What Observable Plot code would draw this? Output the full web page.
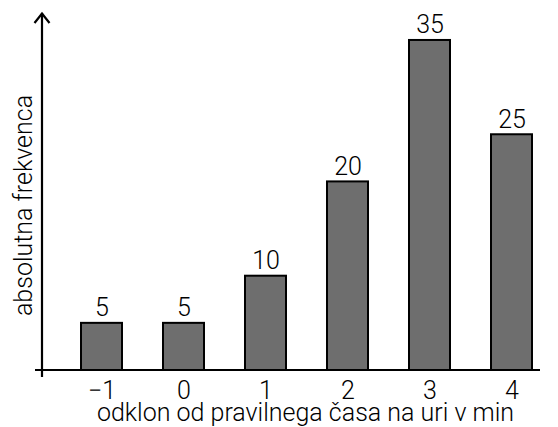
<!DOCTYPE html>
<html>
<head>
<meta charset="utf-8">
<script src="https://cdn.jsdelivr.net/npm/d3@7"></script>
<script src="https://cdn.jsdelivr.net/npm/@observablehq/plot@0.6"></script>
<style>
  html, body { margin: 0; padding: 0; background: #fff; }
  svg { display: block; }
</style>
</head>
<body>
<div id="chart"></div>
<script>
const categories = ["−1", "0", "1", "2", "3", "4"];
const frequencies = [5, 5, 10, 20, 35, 25];
const xTitle = "odklon od pravilnega časa na uri v min";
const yTitle = "absolutna frekvenca";

const data = categories.map((c, i) => ({ c, f: frequencies[i] }));

const font = "Roboto, 'Liberation Sans', Arial, sans-serif";
const fs = 25;

const axes = (index, scales, values, dim) => {
  const g = d3.create("svg:g");
  const y0 = scales.y(0);
  const xAxisLeft = 35, xAxisRight = 540, yAxisX = 42;
  const top = dim.marginTop;
  g.append("line")
    .attr("x1", xAxisLeft).attr("x2", xAxisRight)
    .attr("y1", y0).attr("y2", y0)
    .attr("stroke", "#000").attr("stroke-width", 2.2);
  g.append("line")
    .attr("x1", yAxisX).attr("x2", yAxisX)
    .attr("y1", y0 + 7).attr("y2", top)
    .attr("stroke", "#000").attr("stroke-width", 2.2);
  g.append("path")
    .attr("d", `M${yAxisX - 7.5},${top + 10}L${yAxisX},${top + 0.5}L${yAxisX + 7.5},${top + 10}`)
    .attr("fill", "none").attr("stroke", "#000").attr("stroke-width", 2.2);
  return g.node();
};

const chart = Plot.plot({
  width: 558,
  height: 427,
  marginLeft: 59.4,
  marginRight: 5.4,
  marginTop: 13,
  marginBottom: 57,
  style: { fontFamily: font, fontSize: fs + "px", fontWeight: 300, color: "#000", background: "#fff" },
  x: { type: "band", domain: categories, paddingInner: 0.5, paddingOuter: 0.25, label: null },
  y: { domain: [0, 37.86], axis: null },
  marks: [
    Plot.barY(data, { x: "c", y: "f", fill: "#6e6e6e", stroke: "#000", strokeWidth: 2 }),
    Plot.text(data, { x: "c", y: "f", text: d => String(d.f), dy: -15, fontSize: fs, fontWeight: 300, fill: "#000" }),
    Plot.axisX({ tickSize: 0, tickPadding: 11, fontSize: fs, fontWeight: 300, label: null }),
    Plot.text([xTitle], { frameAnchor: "bottom", textAnchor: "middle", dy: 50, dx: -1, fontSize: fs, fontWeight: 300, fill: "#000" }),
    Plot.text([yTitle], { frameAnchor: "left", textAnchor: "middle", rotate: -90, dx: -36.4, dy: 13.5, fontSize: fs, fontWeight: 300, fill: "#000" }),
    axes
  ]
});

document.getElementById("chart").appendChild(chart);
</script>
</body>
</html>
